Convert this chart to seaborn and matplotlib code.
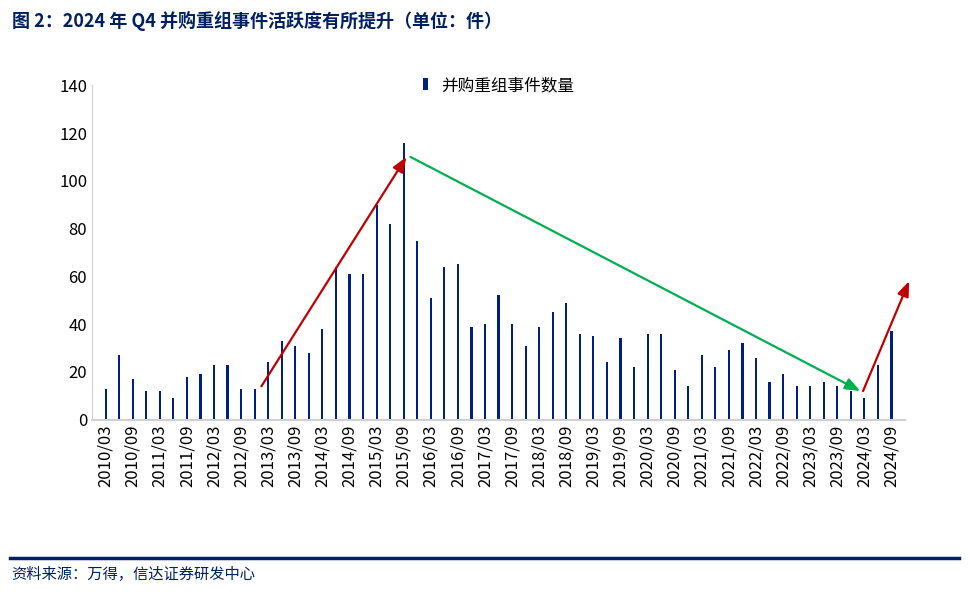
"""Quarterly M&A restructuring event counts, 2010Q1-2024Q3."""

import matplotlib.pyplot as plt
import pandas as pd
import seaborn as sns

quarters = [f"{y}/{m}" for y in range(2010, 2025) for m in ("03", "06", "09", "12")][:59]
events = [13, 27, 17, 12, 12, 9, 18, 19, 23, 23, 13, 13, 24, 33, 31, 28, 38, 64, 61, 61,
          90, 82, 116, 75, 51, 64, 65, 39, 40, 52, 40, 31, 39, 45, 49, 36, 35, 24, 34, 22,
          36, 36, 21, 14, 27, 22, 29, 32, 26, 16, 19, 14, 14, 16, 14, 12, 9, 23, 37]
tick_labels = quarters[::2]

plt.rcParams["font.family"] = ["Noto Sans CJK SC", "DejaVu Sans"]
df = pd.DataFrame({"quarter": quarters, "events": events})

fig = plt.figure(figsize=(9.69, 5.92), dpi=100)
ax = fig.add_axes([0.095, 0.291, 0.839, 0.565])
sns.barplot(data=df, x="quarter", y="events", color="#002080", width=0.16,
            label="并购重组事件数量", ax=ax, saturation=1, linewidth=0)
ax.set_ylim(0, 140)
ax.set_yticks(range(0, 141, 20))
ax.set_xlim(-1, 59)
ax.set_xticks(range(0, 59, 2))
ax.set_xticklabels(tick_labels, rotation=90, fontsize=12)
ax.tick_params(axis="y", labelsize=12, length=0)
ax.tick_params(axis="x", length=0)
ax.set_xlabel("")
ax.set_ylabel("")
for s in ("top", "right"):
    ax.spines[s].set_visible(False)
ax.spines["left"].set_color("#d0d0d0")
ax.spines["bottom"].set_color("#d0d0d0")
ax.spines["bottom"].set_linewidth(1.5)
ax.legend(loc="upper center", frameon=False, fontsize=12, handlelength=0.3,
          handleheight=0.7, bbox_to_anchor=(0.5, 1.07))

arrow = dict(arrowstyle="-|>,head_length=0.9,head_width=0.35", lw=1.6, shrinkA=0, shrinkB=0)
ax.annotate("", xy=(22.2, 110), xytext=(11.5, 14), arrowprops={**arrow, "color": "#c00000"},
            annotation_clip=False)
ax.annotate("", xy=(55.7, 12), xytext=(22.5, 110), arrowprops={**arrow, "color": "#00b050"},
            annotation_clip=False)
ax.annotate("", xy=(59.3, 58), xytext=(55.9, 12), arrowprops={**arrow, "color": "#c00000"},
            annotation_clip=False)

fig.text(0.012, 0.955, "图 2：2024 年 Q4 并购重组事件活跃度有所提升（单位：件）",
         fontsize=13, fontweight="bold", color="#002060")
fig.add_artist(plt.Line2D([0.01, 0.99], [0.058, 0.058], color="#002060", lw=2.5,
                          transform=fig.transFigure))
fig.text(0.012, 0.022, "资料来源：万得，信达证券研发中心", fontsize=11, style="italic",
         color="#002060")

fig.savefig("out.png")
